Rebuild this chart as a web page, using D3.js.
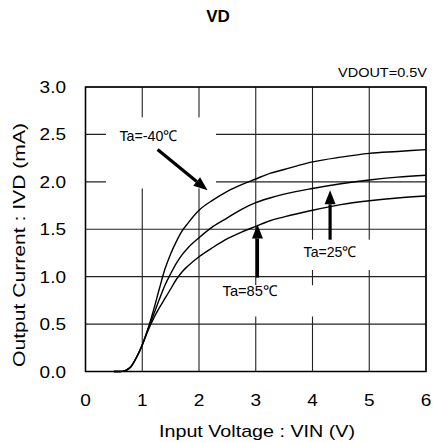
<!DOCTYPE html>
<html><head><meta charset="utf-8">
<script src="https://cdn.jsdelivr.net/npm/d3@7"></script>
<style>
html,body{margin:0;padding:0;background:#fff;}
svg{display:block;font-family:"Liberation Sans",Arial,sans-serif;}
</style></head>
<body>
<svg id="c" width="434" height="443"></svg>
<script>
// ---- data ----
const vin = [0.5,0.6,0.7,0.8,0.9,1.0,1.1,1.2,1.3,1.4,1.5,1.6,1.7,1.8,2.0,2.25,2.5,2.75,3.0,3.25,3.5,4.0,4.5,5.0,5.5,6.0];
const ivdM40 = [0,0,0.01,0.05,0.15,0.28,0.45,0.65,0.87,1.08,1.24,1.37,1.48,1.56,1.70,1.81,1.90,1.97,2.03,2.09,2.13,2.21,2.26,2.30,2.32,2.34];
const ivd25  = [0,0,0.01,0.05,0.15,0.28,0.44,0.60,0.76,0.91,1.03,1.14,1.23,1.30,1.41,1.53,1.62,1.71,1.78,1.83,1.87,1.93,1.98,2.02,2.05,2.07];
const ivd85  = [0,0,0.01,0.05,0.15,0.28,0.43,0.56,0.67,0.77,0.87,0.97,1.05,1.11,1.21,1.31,1.40,1.47,1.53,1.59,1.63,1.70,1.76,1.80,1.83,1.85];
const xTicks = [0,1,2,3,4,5,6];
const yTicks = [0,0.5,1.0,1.5,2.0,2.5,3.0];
const seriesLabels = ["Ta=-40℃","Ta=25℃","Ta=85℃"];
const titleText = "VD";
const condText = "VDOUT=0.5V";
const xTitle = "Input Voltage : VIN (V)";
const yTitle = "Output Current : IVD (mA)";

// ---- layout ----
const svg = d3.select("#c");
const L = 85.5, R = 426, T = 87, B = 371.5;
const x = d3.scaleLinear().domain([0,6]).range([L,R]);
const y = d3.scaleLinear().domain([0,3]).range([B,T]);

function stretch(sel, f){ sel.each(function(){ const w=this.getComputedTextLength(); this.setAttribute("textLength", w*f); this.setAttribute("lengthAdjust","spacingAndGlyphs"); }); }

// grid
const g = svg.append("g");
g.selectAll("line.vx").data(xTicks).join("line")
  .attr("x1",d=>x(d)).attr("x2",d=>x(d)).attr("y1",T).attr("y2",B)
  .attr("stroke","#222").attr("stroke-width",1.1);
g.selectAll("line.hy").data(yTicks).join("line")
  .attr("y1",d=>y(d)).attr("y2",d=>y(d)).attr("x1",L).attr("x2",R)
  .attr("stroke","#222").attr("stroke-width",1.1);

// curves
const line = d3.line().x((d,i)=>x(vin[i])).y(d=>y(d)).curve(d3.curveMonotoneX);
[ivdM40, ivd25, ivd85].forEach(s=>{
  svg.append("path").attr("d",line(s)).attr("fill","none").attr("stroke","#000").attr("stroke-width",1.4);
});

// white label boxes (in data coords)
const boxes = [[0.36,2.68,2.3,1.93],[3.7,1.39,5.1,1.07],[2.24,0.91,4.06,0.58]];
boxes.forEach(b=>{
  svg.append("rect").attr("x",x(b[0])).attr("y",y(b[1])).attr("width",x(b[2])-x(b[0])).attr("height",y(b[3])-y(b[1])).attr("fill","#fff");
});

// frame
svg.append("rect").attr("x",L).attr("y",T).attr("width",R-L).attr("height",B-T)
  .attr("fill","none").attr("stroke","#000").attr("stroke-width",1.5);

// arrows
const arrows = [[1.27,2.34,2.15,1.91],[4.31,1.39,4.31,1.91],[3.03,0.99,3.03,1.55]];
arrows.forEach(a=>{
  const x1=x(a[0]),y1=y(a[1]),x2=x(a[2]),y2=y(a[3]);
  const dx=x2-x1, dy=y2-y1, len=Math.hypot(dx,dy), ux=dx/len, uy=dy/len;
  const hl=14, hw=5.5;
  const bx=x2-ux*hl, by=y2-uy*hl;
  svg.append("line").attr("x1",x1).attr("y1",y1).attr("x2",bx).attr("y2",by)
    .attr("stroke","#000").attr("stroke-width",3.2);
  svg.append("path").attr("d",`M${x2},${y2}L${bx-uy*hw},${by+ux*hw}L${bx+uy*hw},${by-ux*hw}Z`).attr("fill","#000");
});

// annotation labels
const labPos = [[1.11,2.43],[4.31,1.21],[2.9,0.80]];
const labW = [58,53,55];
seriesLabels.forEach((t,i)=>{
  svg.append("text").attr("x",x(labPos[i][0])).attr("y",y(labPos[i][1]))
    .attr("text-anchor","middle").attr("font-size",15)
    .attr("textLength",labW[i]).attr("lengthAdjust","spacingAndGlyphs").text(t);
});

// tick labels
const yl = svg.selectAll("text.yt").data(yTicks).join("text").attr("class","yt")
  .attr("x",66).attr("y",d=>y(d)+6).attr("text-anchor","end").attr("font-size",16.5)
  .text(d=>d3.format(".1f")(d));
stretch(yl,1.15);
const xl = svg.selectAll("text.xt").data(xTicks).join("text").attr("class","xt")
  .attr("x",d=>x(d)).attr("y",406).attr("text-anchor","middle").attr("font-size",17)
  .text(d=>d);
stretch(xl,1.12);

// titles
svg.append("text").attr("x",218).attr("y",22).attr("text-anchor","middle")
  .attr("font-size",17).attr("font-weight","bold").text(titleText);
svg.append("text").attr("x",427).attr("y",76.5).attr("text-anchor","end")
  .attr("font-size",13).attr("textLength",89).attr("lengthAdjust","spacingAndGlyphs").text(condText);
svg.append("text").attr("x",257).attr("y",437).attr("text-anchor","middle")
  .attr("font-size",17).attr("textLength",196).attr("lengthAdjust","spacingAndGlyphs").text(xTitle);
svg.append("text").attr("transform","translate(25,245) rotate(-90)").attr("text-anchor","middle")
  .attr("font-size",17).attr("textLength",244).attr("lengthAdjust","spacingAndGlyphs").text(yTitle);
</script>
</body></html>
